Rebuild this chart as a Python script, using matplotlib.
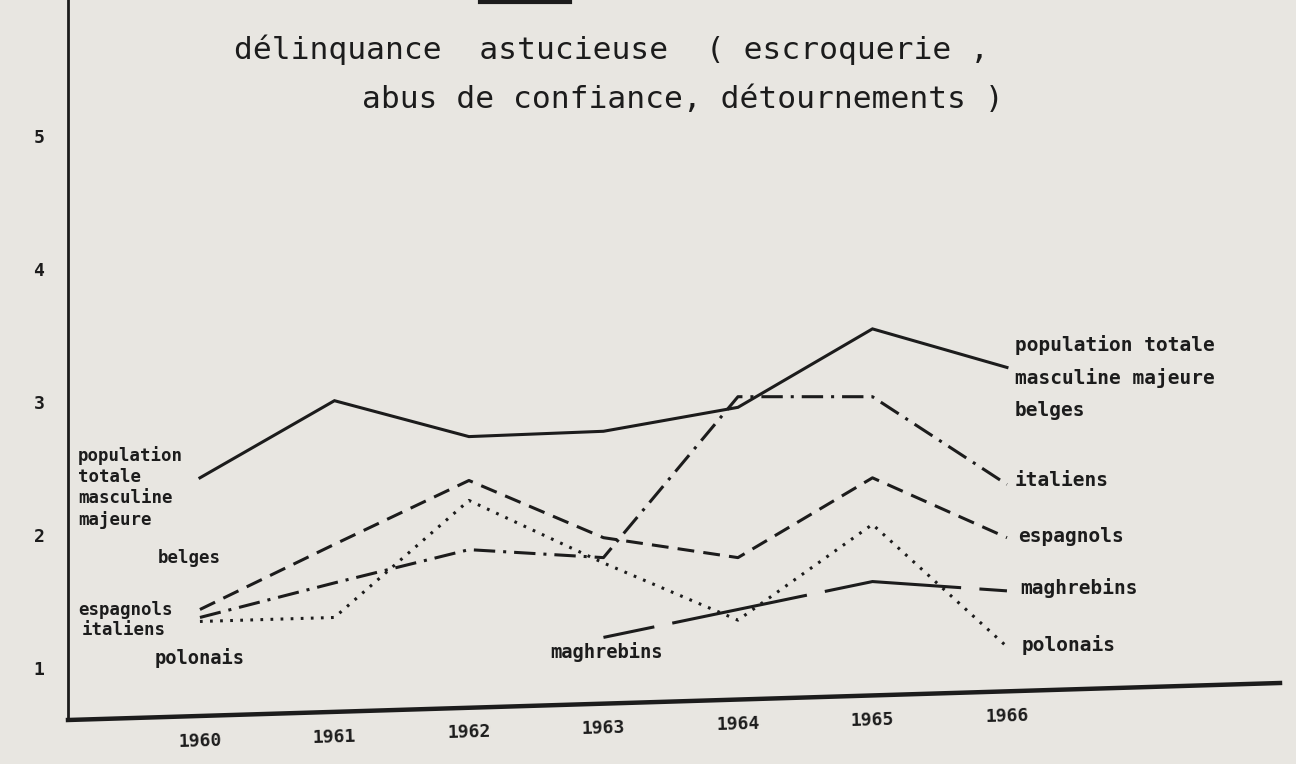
import matplotlib
matplotlib.use("Agg")
import matplotlib.pyplot as plt
from matplotlib.lines import Line2D
import matplotlib.transforms as mtransforms

# donnees (indice, 1960-1966)
annees = [1960, 1961, 1962, 1963, 1964, 1965, 1966]
population_totale = [2.43, 3.01, 2.74, 2.78, 2.96, 3.55, 3.26]
italiens = [1.38, 1.64, 1.89, 1.83, 3.04, 3.04, 2.38]
espagnols = [1.44, 1.93, 2.41, 1.98, 1.83, 2.43, 1.98]
polonais = [1.35, 1.38, 2.26, 1.79, 1.36, 2.08, 1.16]
annees_maghrebins = [1963, 1964, 1965, 1966]
maghrebins = [1.23, 1.44, 1.65, 1.58]
yticks = [1, 2, 3, 4, 5]

W, H = 1296, 764
encre = "#1c1c1c"
papier = "#e8e6e1"
police = "DejaVu Sans Mono"

fig = plt.figure(figsize=(W / 100, H / 100), dpi=100, facecolor=papier)
ax = fig.add_axes([68 / W, 44 / H, (1280 - 68) / W, 720 / H])
ax.set_facecolor(papier)

def px(x, y):
    # pixel (depuis le haut) -> fraction de figure
    return x / W, 1 - y / H

def texte(x, y, s, size=13.5, weight="bold", ha="left"):
    fx, fy = px(x, y)
    fig.text(fx, fy, s, fontsize=size, fontweight=weight, family=police,
             color=encre, ha=ha, va="center")

lw = 2.2
ax.plot(annees, population_totale, color=encre, lw=lw, solid_joinstyle="miter")
ax.plot(annees, italiens, color=encre, lw=lw, ls=(0, (7, 2.6, 1, 2.6)))
ax.plot(annees, espagnols, color=encre, lw=lw, ls=(0, (5.5, 3)))
ax.plot(annees, polonais, color=encre, lw=lw, ls=(0, (0.9, 2.4)))
ax.plot(annees_maghrebins, maghrebins, color=encre, lw=lw, ls=(28, (45, 6)))

ax.set_xlim(1959.019, 1968.03)
ax.set_ylim(0.609, 6.023)

for s in ["top", "right", "bottom"]:
    ax.spines[s].set_visible(False)
ax.spines["left"].set_color(encre)
ax.spines["left"].set_linewidth(2)

# axe horizontal legerement incline comme sur le document
pente = 37 / 720
ax.add_line(Line2D([0, 1], [0, pente], transform=ax.transAxes, color=encre,
                   lw=3.2, clip_on=False))

ax.set_xticks([])
ax.set_yticks(yticks)
ax.set_yticklabels([str(v) for v in yticks], family=police, fontweight="bold",
                   fontsize=13, color=encre)
ax.tick_params(axis="y", length=0, pad=17)

# annees sous l'axe incline
trans = mtransforms.blended_transform_factory(ax.transData, ax.transAxes)
x0, x1 = ax.get_xlim()
for a in annees:
    f = (a - x0) / (x1 - x0)
    ax.text(a, pente * f - 25 / 720, str(a), transform=trans, ha="center",
            va="center", family=police, fontweight="bold", fontsize=13,
            color=encre, rotation=1.7, clip_on=False)

# titre
texte(611, 50, "délinquance  astucieuse  ( escroquerie ,", size=22.5,
      weight="normal", ha="center")
texte(683, 100, "abus de confiance, détournements )", size=22.5,
      weight="normal", ha="center")

# trait coupe en haut de la page
fig.add_artist(Line2D([480 / W, 570 / W], [1 - 2 / H, 1 - 2 / H], color=encre, lw=3))

# etiquettes a gauche
texte(78, 456, "population", size=12.5)
texte(78, 477, "totale", size=12.5)
texte(78, 498, "masculine", size=12.5)
texte(78, 520, "majeure", size=12.5)
texte(158, 558, "belges", size=12.5)
texte(78, 610, "espagnols", size=12.5)
texte(82, 630, "italiens", size=12.5)
texte(155, 658, "polonais", size=13.5)
texte(550, 652, "maghrebins", size=13.5)

# etiquettes a droite
texte(1015, 345, "population totale", size=14)
texte(1015, 378, "masculine majeure", size=14)
texte(1015, 410, "belges", size=14)
texte(1015, 480, "italiens", size=14)
texte(1018, 537, "espagnols", size=14)
texte(1020, 588, "maghrebins", size=14)
texte(1022, 645, "polonais", size=14)

fig.savefig("out.png", dpi=100, facecolor=papier)
